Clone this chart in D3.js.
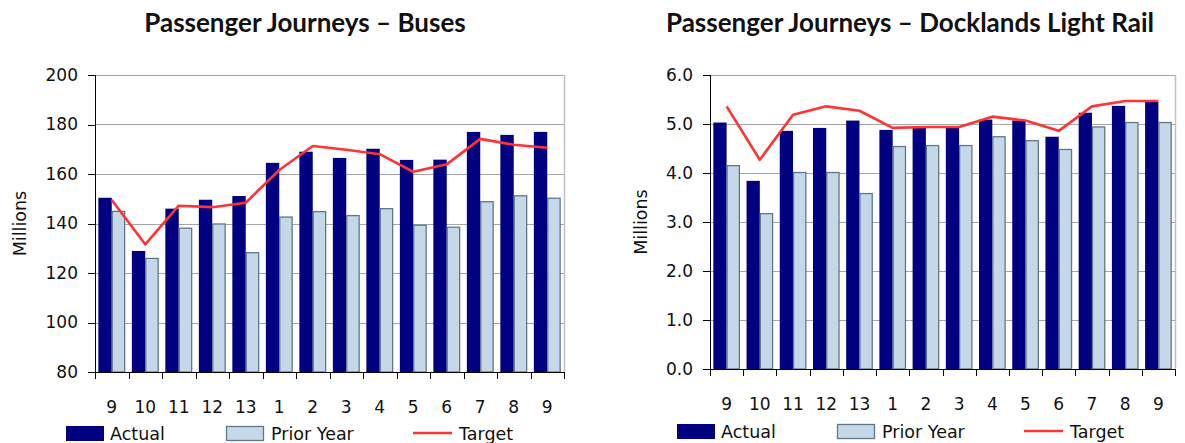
<!DOCTYPE html>
<meta charset="utf-8">
<style>
body { margin: 0; background: #fff; font-family: "DejaVu Sans", sans-serif; }
.grid line { stroke: #a6a6a6; stroke-width: 1; shape-rendering: crispEdges; }
.axis path, .axis line { stroke: #000; shape-rendering: crispEdges; }
.axis text { font-size: 17px; fill: #111; font-family: "DejaVu Sans", sans-serif; }
.title { font-family: Lato, sans-serif; font-size: 26px; font-weight: bold; fill: #111; }
.legend text { font-size: 17.5px; fill: #111; }
</style>
<body>
<svg width="1185" height="443"></svg>
<script src="https://cdn.jsdelivr.net/npm/d3@7"></script>
<script>

var periods = ["9", "10", "11", "12", "13", "1", "2", "3", "4", "5", "6", "7", "8", "9b"];
var periodLabels = ["9", "10", "11", "12", "13", "1", "2", "3", "4", "5", "6", "7", "8", "9"];

// buses (millions)
var busActual = [150.4, 128.9, 146.0, 149.6, 151.1, 164.5, 169.0, 166.5, 170.2, 165.7, 165.8, 177.0, 175.8, 177.0];
var busPrior  = [144.9, 125.9, 138.1, 139.8, 128.2, 142.6, 144.8, 143.2, 146.0, 139.3, 138.5, 148.8, 151.2, 150.2];
var busTarget = [149.5, 131.6, 147.2, 146.6, 148.4, 161.6, 171.3, 169.8, 168.0, 160.9, 163.9, 174.2, 171.8, 170.6];

// docklands light rail (millions)
var dlrActual = [5.03, 3.84, 4.86, 4.92, 5.07, 4.88, 4.92, 4.93, 5.09, 5.07, 4.74, 5.23, 5.37, 5.45];
var dlrPrior  = [4.15, 3.17, 4.01, 4.01, 3.58, 4.54, 4.56, 4.56, 4.74, 4.66, 4.48, 4.94, 5.03, 5.03];
var dlrTarget = [5.36, 4.27, 5.19, 5.36, 5.27, 4.92, 4.94, 4.94, 5.15, 5.07, 4.86, 5.36, 5.47, 5.47];

var busTicks = [80, 100, 120, 140, 160, 180, 200];
var dlrTicks = [0, 1, 2, 3, 4, 5, 6];

var svg = d3.select("svg");

function drawChart(opt) {
  var g = svg.append("g").attr("transform", "translate(" + opt.left + "," + opt.top + ")");
  var width = opt.width, height = opt.height;

  var x0 = d3.scaleBand().domain(periods).range([0, width]).padding(0);
  var x1 = d3.scaleBand().domain(["actual", "prior"]).range([0, x0.bandwidth()])
    .paddingInner(0).paddingOuter(0.25);
  var y = d3.scaleLinear().domain(opt.domain).range([height, 0]);

  // gridlines
  g.append("g").attr("class", "grid")
    .selectAll("line").data(opt.ticks.slice(1)).enter().append("line")
      .attr("x1", 0).attr("x2", width)
      .attr("y1", function(d) { return Math.round(y(d)) + 0.5; })
      .attr("y2", function(d) { return Math.round(y(d)) + 0.5; });

  // right border
  g.append("line")
    .attr("x1", width + 0.5).attr("x2", width + 0.5)
    .attr("y1", 0).attr("y2", height)
    .attr("stroke", "#c0c0c0").attr("stroke-width", 1.5);

  var groups = g.selectAll(".grp").data(periods).enter().append("g")
    .attr("transform", function(d) { return "translate(" + x0(d) + ",0)"; });

  groups.append("rect")
    .attr("x", x1("actual"))
    .attr("width", x1.bandwidth())
    .attr("y", function(d, i) { return y(opt.actual[i]); })
    .attr("height", function(d, i) { return height - y(opt.actual[i]); })
    .attr("fill", "#000080");

  groups.append("rect")
    .attr("x", x1("prior") + 0.5)
    .attr("width", x1.bandwidth() - 1)
    .attr("y", function(d, i) { return y(opt.prior[i]); })
    .attr("height", function(d, i) { return height - y(opt.prior[i]); })
    .attr("fill", "#c4d8e8")
    .attr("stroke", "#5f7889")
    .attr("stroke-width", 1.3);

  var line = d3.line()
    .x(function(d, i) { return x0(periods[i]) + x0.bandwidth() / 2; })
    .y(function(d) { return y(d); });

  g.append("path").datum(opt.target)
    .attr("d", line)
    .attr("fill", "none")
    .attr("stroke", "#ff3333")
    .attr("stroke-width", 2.6)
    .attr("stroke-linejoin", "round");

  // y axis
  g.append("g").attr("class", "axis")
    .call(d3.axisLeft(y).tickValues(opt.ticks).tickSize(7).tickPadding(10)
      .tickFormat(opt.fmt))
    .call(function(a) { a.select(".domain").attr("d", "M0.5," + (height + 0.5) + "V0"); });

  // x axis: ticks at category boundaries
  var xa = g.append("g").attr("class", "axis").attr("transform", "translate(0," + height + ")");
  xa.append("line").attr("x1", 0).attr("x2", width).attr("y1", 0.5).attr("y2", 0.5);
  xa.selectAll(".tk").data(periods.concat(["end"])).enter().append("line")
    .attr("x1", function(d, i) { return Math.round(i * x0.step()) + 0.5; })
    .attr("x2", function(d, i) { return Math.round(i * x0.step()) + 0.5; })
    .attr("y1", 0).attr("y2", 7);
  xa.selectAll("text").data(periods).enter().append("text")
    .attr("x", function(d) { return x0(d) + x0.bandwidth() / 2; })
    .attr("y", opt.xLabelY)
    .attr("text-anchor", "middle")
    .text(function(d, i) { return periodLabels[i]; });

  // y label
  svg.append("text")
    .attr("transform", "translate(" + opt.yLabelX + "," + (opt.top + height / 2) + ") rotate(-90)")
    .attr("text-anchor", "middle")
    .attr("font-size", 17.5)
    .attr("fill", "#111")
    .text("Millions");

  // title
  svg.append("text").attr("class", "title")
    .attr("x", opt.titleX).attr("y", 32)
    .attr("text-anchor", "middle")
    .text(opt.title);

  // legend
  var lg = svg.append("g").attr("class", "legend")
    .attr("transform", "translate(" + opt.legendX + "," + opt.legendY + ")");
  lg.append("rect").attr("x", 0).attr("y", 0).attr("width", 38).attr("height", 15).attr("fill", "#000080");
  lg.append("text").attr("x", 44).attr("y", 13.5).text("Actual");
  lg.append("rect").attr("x", 160.5).attr("y", 0.5).attr("width", 37).attr("height", 14)
    .attr("fill", "#c4d8e8").attr("stroke", "#5f7889").attr("stroke-width", 1.3);
  lg.append("text").attr("x", 205).attr("y", 13.5).text("Prior Year");
  lg.append("line").attr("x1", 347).attr("x2", 386).attr("y1", 7).attr("y2", 7)
    .attr("stroke", "#ff3333").attr("stroke-width", 2.6);
  lg.append("text").attr("x", 393).attr("y", 13.5).text("Target");
}

drawChart({
  left: 95, top: 75, width: 469, height: 297,
  domain: [80, 200], ticks: busTicks, fmt: d3.format("d"),
  actual: busActual, prior: busPrior, target: busTarget,
  xLabelY: 41, yLabelX: 26, titleX: 305,
  title: "Passenger Journeys \u2013 Buses",
  legendX: 66, legendY: 426
});

drawChart({
  left: 710, top: 75, width: 465, height: 294,
  domain: [0, 6], ticks: dlrTicks, fmt: d3.format(".1f"),
  actual: dlrActual, prior: dlrPrior, target: dlrTarget,
  xLabelY: 41, yLabelX: 647, titleX: 910,
  title: "Passenger Journeys \u2013 Docklands Light Rail",
  legendX: 677, legendY: 424
});
</script>
</body>
